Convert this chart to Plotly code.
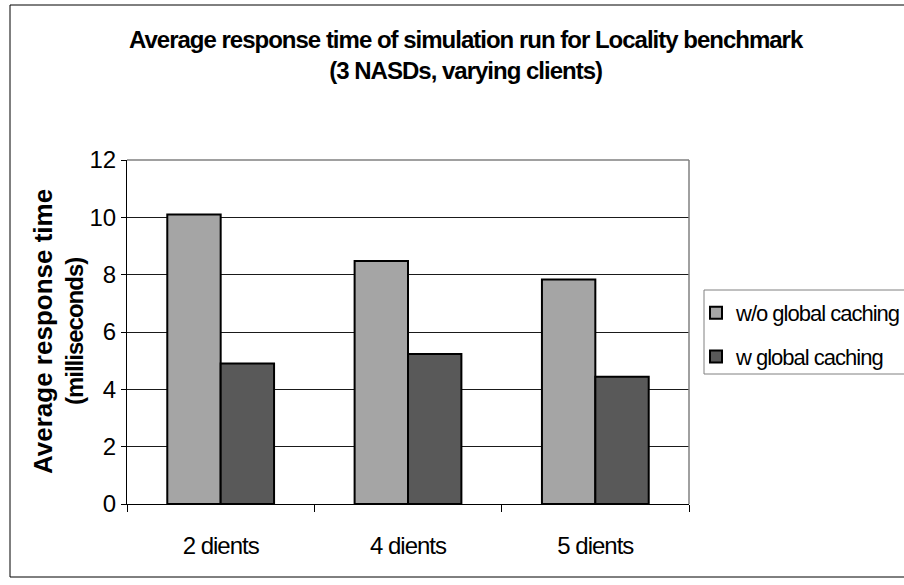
import plotly.graph_objects as go

# Data
categories = ["2 dients", "4 dients", "5 dients"]
without_caching = [10.1, 8.48, 7.83]
with_caching = [4.9, 5.23, 4.44]
series_names = ["w/o global caching", "w global caching"]
y_ticks = [0, 2, 4, 6, 8, 10, 12]

W, H = 904, 585
L, R, T, B = 127, 689, 160, 504  # plot area in pixels

def px(xp):
    return (xp - L) / (R - L)

def py(yp):
    return (B - yp) / (B - T)

FONT = "Liberation Sans, Arial, sans-serif"

def tight(s, spacing=-1):
    return f"<span style='letter-spacing:{spacing}px'>{s}</span>"

fig = go.Figure()
fig.add_trace(go.Bar(
    x=categories, y=without_caching, name=tight(series_names[0]),
    marker=dict(color="#A5A5A5", line=dict(color="#000000", width=2)),
    legendgroup="a",
))
fig.add_trace(go.Bar(
    x=categories, y=with_caching, name=tight(series_names[1]),
    marker=dict(color="#595959", line=dict(color="#000000", width=2)),
    legendgroup="b",
))

fig.update_layout(
    width=W, height=H,
    margin=dict(l=L, r=W - R, t=T, b=H - B, pad=0, autoexpand=False),
    paper_bgcolor="white", plot_bgcolor="white",
    barmode="group", bargap=0.43, bargroupgap=0,
    font=dict(family=FONT, color="#000000"),
    showlegend=True,
    legend=dict(
        x=px(696), y=py(292), xanchor="left", yanchor="top",
        borderwidth=0, bgcolor="rgba(0,0,0,0)",
        font=dict(size=22, family=FONT), tracegroupgap=12,
        itemwidth=30,
    ),
    xaxis=dict(
        showline=True, linecolor="#000000", linewidth=1,
        ticks="outside", tickson="boundaries", ticklen=7, tickcolor="#000000",
        tickmode="array", tickvals=categories,
        ticktext=[tight(c) for c in categories],
        tickfont=dict(size=24, family=FONT), ticklabelstandoff=20,
        showgrid=False, fixedrange=True,
    ),
    yaxis=dict(
        range=[0, 12], tickvals=y_ticks,
        showline=True, linecolor="#000000", linewidth=1,
        ticks="outside", ticklen=5, tickcolor="#000000",
        tickfont=dict(size=24, family=FONT),
        showgrid=True, gridcolor="#1a1a1a", gridwidth=1,
        zeroline=False, fixedrange=True,
    ),
)

# Plot-area border (top and right edges show in grey)
fig.add_shape(type="line", xref="paper", yref="paper",
              x0=0, x1=1, y0=1, y1=1, line=dict(color="#808080", width=1.5))
fig.add_shape(type="line", xref="paper", yref="paper",
              x0=1, x1=1, y0=0, y1=1, line=dict(color="#808080", width=1.5))

# Legend frame
fig.add_shape(type="rect", xref="paper", yref="paper",
              x0=px(704), x1=px(920), y0=py(374), y1=py(290),
              line=dict(color="#808080", width=1), fillcolor="white", layer="below")

# Chart-area frame
fig.add_shape(type="rect", xref="paper", yref="paper",
              x0=px(10), x1=px(912), y0=py(577), y1=py(5),
              line=dict(color="#000000", width=1))

# Title
fig.add_annotation(
    xref="paper", yref="paper", x=px(466), y=py(55),
    xanchor="center", yanchor="middle", showarrow=False,
    text=tight("<b>Average response time of simulation run for Locality benchmark</b>")
         + "<br>" + tight("<b>(3 NASDs, varying clients)</b>"),
    font=dict(size=24, family=FONT, color="#000000"), align="center",
)

# Y axis title
fig.add_annotation(
    xref="paper", yref="paper", x=px(58), y=py(332),
    xanchor="center", yanchor="middle", showarrow=False, textangle=-90,
    text="<b><span style='font-size:26px'>Average response time</span></b><br>"
         + tight("<b>(milliseconds)</b>"),
    font=dict(size=24, family=FONT, color="#000000"), align="center",
)

fig.write_html("out.html")
